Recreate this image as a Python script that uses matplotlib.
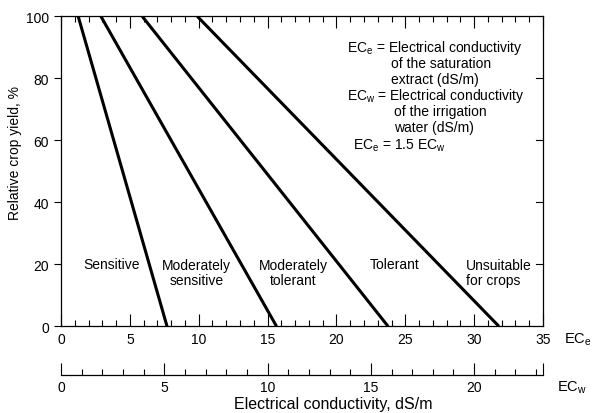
import matplotlib
matplotlib.use("Agg")
import numpy as np
import matplotlib.pyplot as plt
from matplotlib.ticker import MultipleLocator, FixedLocator, FixedFormatter

plt.rcParams['font.family'] = ['Liberation Sans', 'DejaVu Sans']
plt.rcParams['mathtext.default'] = 'regular'

# EC_e where each boundary line meets 100 % and 0 % yield
x_top = [1.25, 2.9, 5.9, 9.9]
x_bottom = [7.7, 15.65, 23.75, 31.8]
y_ends = [100, 0]

classes = ['Sensitive', 'Moderately\nsensitive', 'Moderately\ntolerant',
           'Tolerant', 'Unsuitable\nfor crops']
class_x = [3.7, 9.85, 16.85, 24.2, 29.4]
class_y = [20.1, 17.5, 17.5, 20.1, 17.5]
class_ha = ['center', 'center', 'center', 'center', 'left']

ratio = 1.5  # EC_e = 1.5 EC_w
ece_max = 35

fs = 10

fig = plt.figure(figsize=(5.98, 4.14), dpi=100)
ax = fig.add_axes([0.102, 0.2094, 0.806, 0.7486])

for xt, xb in zip(x_top, x_bottom):
    ax.plot([xt, xb], y_ends, color='black', lw=2.2, solid_capstyle='butt')

for lab, cx, cy, ha in zip(classes, class_x, class_y, class_ha):
    ax.text(cx, cy, lab, ha=ha, va='center', fontsize=fs, linespacing=1.1)

notes = [
    (20.8, 90.1, r'EC$_e$ = Electrical conductivity'),
    (23.95, 84.9, 'of the saturation'),
    (23.95, 79.8, 'extract (dS/m)'),
    (20.8, 74.6, r'EC$_w$ = Electrical conductivity'),
    (24.2, 69.4, 'of the irrigation'),
    (24.2, 64.3, 'water (dS/m)'),
    (21.2, 58.5, r'EC$_e$ = 1.5 EC$_w$'),
]
for nx, ny, s in notes:
    ax.text(nx, ny, s, ha='left', va='center', fontsize=fs)

ax.set_xlim(0, ece_max)
ax.set_ylim(0, 100)
ax.xaxis.set_major_locator(MultipleLocator(5))
ax.xaxis.set_minor_locator(MultipleLocator(1))
ax.yaxis.set_major_locator(MultipleLocator(20))
ax.yaxis.set_minor_locator(FixedLocator([]))
ax.tick_params(axis='x', which='both', direction='in', top=True, bottom=True,
               labelsize=fs, pad=4)
ax.tick_params(axis='x', which='major', length=8.5, width=0.8)
ax.tick_params(axis='x', which='minor', length=4.3, width=0.8)
ax.tick_params(axis='y', which='major', direction='out', length=5, width=0.8,
               labelsize=fs, left=True, right=False)
for sp in ax.spines.values():
    sp.set_linewidth(0.9)
ax.set_ylabel('Relative crop yield, %', fontsize=fs)
ax.yaxis.set_label_coords(-0.08, 0.562)

# right spine ticks pointing inward
for yv in [20, 40, 60, 80]:
    ax.plot([ece_max - 0.5, ece_max], [yv, yv], color='black', lw=0.8,
            clip_on=False)

ax.text(ece_max + 1.5, -4.0, r'EC$_e$', ha='left', va='center', fontsize=fs + 0.5,
        clip_on=False)

# second scale for irrigation water
ax2 = fig.add_axes([0.102, 0.0925, 0.806, 0.001])
ecw_max = ece_max / ratio
ax2.set_xlim(0, ecw_max)
ax2.set_ylim(0, 1)
ax2.set_yticks([])
for s in ['left', 'right', 'top']:
    ax2.spines[s].set_visible(False)
ax2.spines['bottom'].set_linewidth(0.9)
ax2.xaxis.set_major_locator(FixedLocator([0, 5, 10, 15, 20, ecw_max]))
ax2.xaxis.set_major_formatter(FixedFormatter(['0', '5', '10', '15', '20', '']))
ax2.xaxis.set_minor_locator(MultipleLocator(1))
ax2.tick_params(axis='x', which='both', direction='in', labelsize=fs, pad=4)
ax2.tick_params(axis='x', which='major', length=8.5, width=0.8)
ax2.tick_params(axis='x', which='minor', length=4.3, width=0.8)
ax2.patch.set_visible(False)

fig.text(0.932, 0.063, r'EC$_w$', ha='left', va='center', fontsize=fs + 0.5)
fig.text(0.557, 0.004, 'Electrical conductivity, dS/m', ha='center', va='bottom',
         fontsize=11.5)

fig.savefig('out.png', dpi=100)
